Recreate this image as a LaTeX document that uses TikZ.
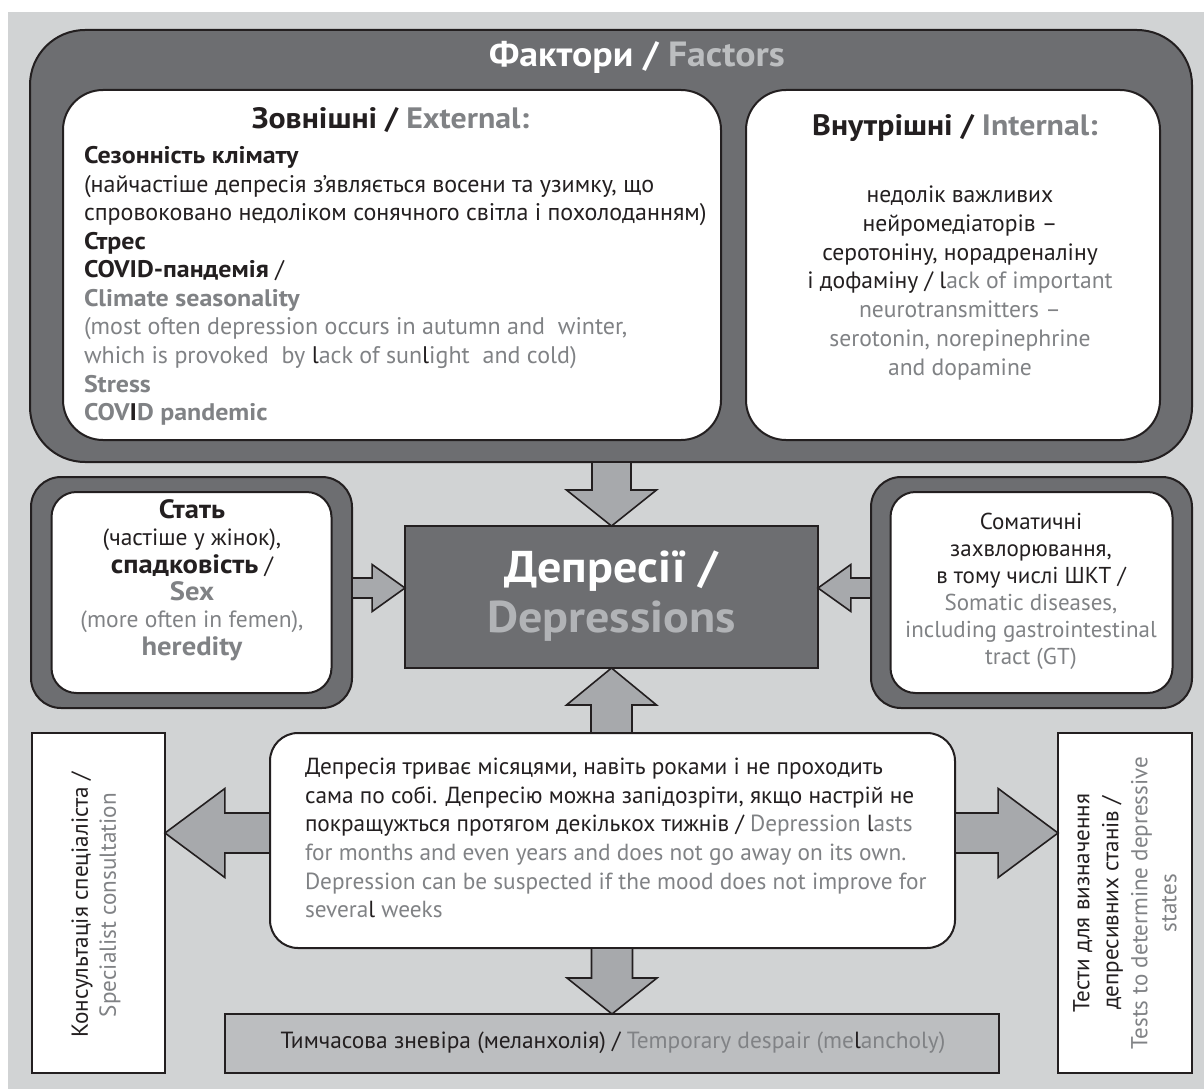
\documentclass[tikz,border=0pt]{standalone}
\usepackage{fontspec}
\setmainfont{PT Sans}[BoldFeatures={FakeStretch=1.08}]
\usetikzlibrary{calc}
\definecolor{bg}{HTML}{D1D3D4}
\definecolor{dark}{HTML}{6D6E71}
\definecolor{arrowfill}{HTML}{A7A9AC}
\definecolor{tempfill}{HTML}{BCBEC0}
\definecolor{eng}{HTML}{808285}
\definecolor{ink}{HTML}{231F20}
\definecolor{light}{HTML}{BCBEC0}
\definecolor{deplight}{HTML}{B1B3B6}
\newcommand{\bl}[1]{{\color{ink}#1}}
\newcommand{\en}[1]{{\color{eng}#1}}
\newcommand{\fsz}[2]{\fontsize{#1}{#2}\selectfont}
\newcommand{\varrow}[5]{\draw[blockarrow] let \p1=(#1), \p2=(#2), \p3=($(#2)!#5!(#1)$) in
  (\x2-#3,\y1) -- (\x2-#3,\y3) -- (\x2-#4,\y3) -- (\x2,\y2) -- (\x2+#4,\y3) -- (\x2+#3,\y3) -- (\x2+#3,\y1) -- cycle;}
\newcommand{\harrow}[5]{\draw[blockarrow] let \p1=(#1), \p2=(#2), \p3=($(#2)!#5!(#1)$) in
  (\x1,\y2-#3) -- (\x3,\y2-#3) -- (\x3,\y2-#4) -- (\x2,\y2) -- (\x3,\y2+#4) -- (\x3,\y2+#3) -- (\x1,\y2+#3) -- cycle;}
\tikzset{
  box/.style={draw=ink, line width=2pt, inner sep=0pt, outer sep=0pt},
  darkbox/.style={box, fill=dark},
  whitebox/.style={box, fill=white},
  txt/.style={inner sep=0pt, outer sep=0pt, text=ink, font=\fsz{23.3}{28.6}},
  blockarrow/.style={draw=ink, line width=1.6pt, fill=arrowfill, line join=miter},
}
\begin{document}
\begin{tikzpicture}[x=1pt, y=-1pt]
\useasboundingbox (0,0) rectangle (1204,1089);
\fill[bg] (8,12) rectangle (1204,1089);

% factors group
\node[darkbox, rounded corners=55pt, minimum width=1162pt, minimum height=432pt] (factors) at (611,246) {};
\node[whitebox, rounded corners=40pt, minimum width=658pt, minimum height=350pt] (ext) at (392,265) {};
\node[whitebox, rounded corners=40pt, minimum width=414pt, minimum height=350pt] (int) at (953,265) {};
\node[txt, text=white, font=\bfseries\fsz{35}{40}] (title) at (637,57) {Фактори / \textcolor{light}{Factors}};
\node[txt, font=\bfseries\fsz{29.5}{34}] (exttitle) at (390.5,120) {Зовнішні / \en{External:}};
\node[txt, font=\bfseries\fsz{29.5}{34}] (inttitle) at (955,128) {Внутрішні / \en{Internal:}};
\node[txt, anchor=west, align=left, font=\fsz{24}{28.55}] (extbody) at (84,286) {%
\textbf{Сезонність клімату}\\
(найчастіше депресія з’являється восени та узимку, що\\
спровоковано недоліком сонячного світла і похолоданням)\\
\textbf{Стрес}\\
\textbf{COVID-пандемія} /\\
\en{\textbf{Climate seasonality}}\\
\en{(most often depression occurs in autumn and\ \ winter,}\\
\en{which is provoked\ \ by \bl{l}ack of sun\bl{l}ight\ \ and cold)}\\
\en{\textbf{Stress}}\\
\en{\textbf{COV\bl{I}D pandemic}}};
\node[txt, align=center, font=\fsz{23.6}{28.7}] (intbody) at (960,283) {%
недолік важливих\\
нейромедіаторів –\\
серотоніну, норадреналіну\\
і дофаміну / l\en{ack of important}\\
\en{neurotransmitters –}\\
\en{serotonin, norepinephrine}\\
\en{and dopamine}};

% middle row
\node[darkbox, rounded corners=30pt, minimum width=321pt, minimum height=231pt] (sexout) at (191.5,592.5) {};
\node[whitebox, rounded corners=25pt, minimum width=280pt, minimum height=201pt] (sexin) at (sexout) {};
\node[darkbox, rounded corners=30pt, minimum width=321pt, minimum height=231pt] (somout) at (1031.5,592.5) {};
\node[whitebox, rounded corners=25pt, minimum width=282pt, minimum height=201pt] (somin) at (somout) {};
\node[darkbox, minimum width=413pt, minimum height=142pt] (dep) at (611.5,597) {};

\node[txt, align=center, font=\fsz{23.5}{27.4}] (sextext) at (192,580) {%
{\bfseries\fsz{26.5}{27.4}Стать}\\
(частіше у жінок),\\
{\bfseries\fsz{26.5}{27.4}спадковість} /\\
\en{\bfseries\fsz{26.5}{27.4}Sex}\\
\en{(more often in femen),}\\
\en{\bfseries\fsz{26.5}{27.4}heredity}};
\node[txt, align=center, font=\fsz{23}{27}] (somtext) at (1031,591) {%
Соматичні\\
захвлорювання,\\
в тому числі ШКТ /\\
\en{Somatic diseases,}\\
\en{including gastrointestinal}\\
\en{tract (GT)}};
\node[txt, align=center, text=white, font=\bfseries\fsz{44.5}{50}] (deptext) at (611.5,596) {%
Депресії /\\
\textcolor{deplight}{Depressions}};

% bottom part
\node[whitebox, rounded corners=28pt, minimum width=685pt, minimum height=215pt] (tb) at (612.5,840.5) {};
\node[whitebox, minimum width=133pt, minimum height=340pt] (cons) at (98.5,903) {};
\node[whitebox, minimum width=134pt, minimum height=340pt] (tests) at (1125,903) {};
\node[box, fill=tempfill, minimum width=774pt, minimum height=59pt] (temp) at (612,1043.5) {};

\node[txt, anchor=west, align=left] (tbtext) at (305,838) {%
Депресія триває місяцями, навіть роками і не проходить\\
сама по собі. Депресію можна запідозріти, якщо настрій не\\
покращужться протягом декількох тижнів / \en{Depression \bl{l}asts}\\
\en{for months and even years and does not go away on its own.}\\
\en{Depression can be suspected if the mood does not improve for}\\
\en{severa\bl{l} weeks}};
\node[txt, align=center, rotate=90, font=\fsz{23.2}{28}] (constext) at (96,905) {%
Консультація спеціаліста /\\
\en{Specialist consultation}};
\node[txt, align=center, rotate=90, font=\fsz{23.1}{29}] (teststext) at (1125,903) {%
Тести для визначення\\
депресивних станів /\\
\en{Tests to determine depressive}\\
\en{states}};
\node[txt, font=\fsz{23.4}{28}] (temptext) at (613,1043) {Тимчасова зневіра (меланхолія) / \en{Temporary despair (me\bl{l}ancholy)}};

% arrows
\coordinate (tipL) at (405,588);
\coordinate (tipR) at (818,588);
\coordinate (tipC) at (165,833);
\coordinate (tipT) at (1058,833);
\varrow{factors.south}{dep.north}{19.5pt}{45pt}{36pt}
\varrow{tb.north}{dep.south}{20.5pt}{45pt}{37pt}
\varrow{tb.south}{temp.north}{20.5pt}{45pt}{36pt}
\harrow{sexout.east}{tipL}{10pt}{23.5pt}{33pt}
\harrow{somout.west}{tipR}{10pt}{23.5pt}{33pt}
\harrow{tb.west}{tipC}{20pt}{44.5pt}{60pt}
\harrow{tb.east}{tipT}{20pt}{44.5pt}{60pt}
\end{tikzpicture}
\end{document}
